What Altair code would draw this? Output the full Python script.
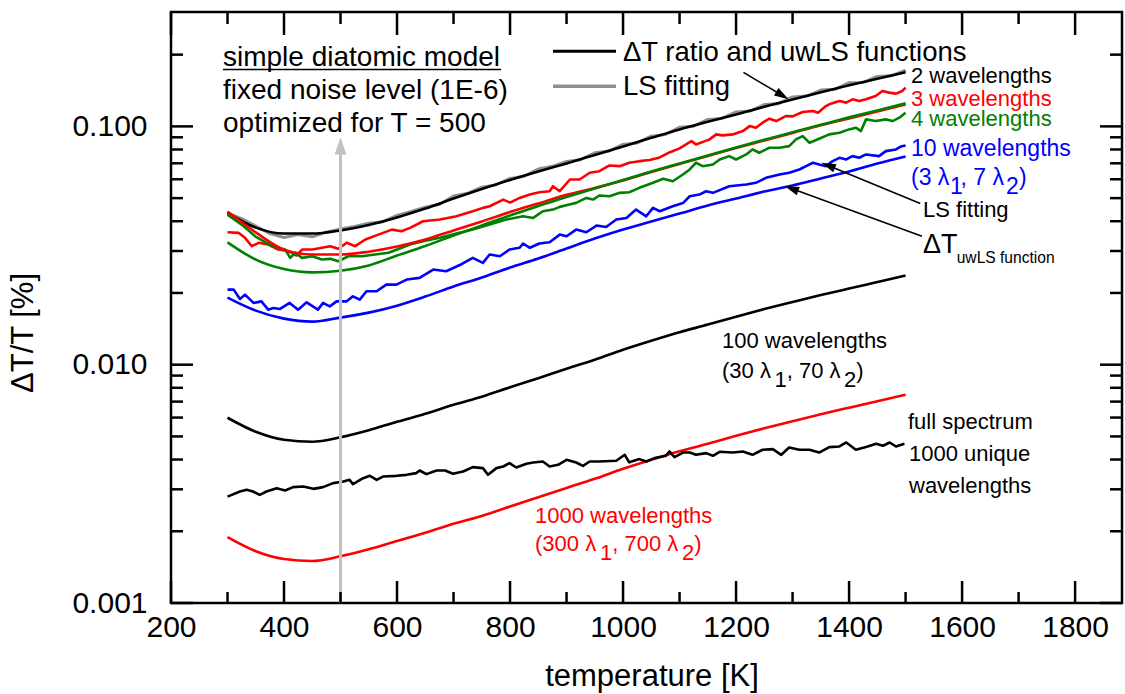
import altair as alt
import pandas as pd

# ---------------- data ----------------
T50 = list(range(300, 1501, 50))
T25 = list(range(300, 1501, 25))

# smooth curves (Delta-T ratio / uwLS functions)
black_2wl = [0.0435, 0.0376, 0.0355, 0.0355, 0.0366, 0.0386, 0.0415, 0.0452, 0.0498, 0.0546,
             0.0596, 0.0647, 0.0699, 0.0759, 0.0824, 0.0895, 0.0971, 0.1045, 0.1123, 0.1208,
             0.1298, 0.1390, 0.1487, 0.1583, 0.1686]
red_3wl = [0.0439, 0.0359, 0.0304, 0.0290, 0.0290, 0.0298, 0.0313, 0.0335, 0.0366, 0.0399,
           0.0437, 0.0475, 0.0516, 0.0552, 0.0593, 0.0644, 0.0696, 0.0752, 0.0812, 0.0873,
           0.0939, 0.1010, 0.1080, 0.1156, 0.1237]
green_4wl = [0.0326, 0.0276, 0.0252, 0.0244, 0.0248, 0.0261, 0.0287, 0.0315, 0.0348, 0.0384,
             0.0423, 0.0463, 0.0506, 0.0549, 0.0596, 0.0647, 0.0699, 0.0755, 0.0816, 0.0878,
             0.0944, 0.1015, 0.1091, 0.1167, 0.1249]
blue_10wl = [0.01912, 0.01686, 0.01561, 0.01516, 0.01576, 0.01654, 0.01769, 0.01931, 0.02127, 0.02320,
             0.02556, 0.02789, 0.03072, 0.03383, 0.03692, 0.0399, 0.04309, 0.04657, 0.0498, 0.05332,
             0.0565, 0.06045, 0.0647, 0.0699, 0.0748]
black_100wl = [0.00599, 0.00523, 0.00484, 0.00475, 0.00496, 0.00531, 0.00576, 0.00622, 0.00679, 0.00734,
               0.00804, 0.00878, 0.00962, 0.01050, 0.01156, 0.01261, 0.01369, 0.01473, 0.01591, 0.01711,
               0.01831, 0.01959, 0.02087, 0.02222, 0.02366]
red_1000wl = [0.00189, 0.00165, 0.00153, 0.00150, 0.00157, 0.00168, 0.00182, 0.00197, 0.00215, 0.00232,
              0.00254, 0.00278, 0.00304, 0.00332, 0.00366, 0.00399, 0.00433, 0.00466, 0.00503, 0.00541,
              0.00579, 0.00619, 0.00660, 0.00703, 0.00748]

# noisy curves (LS fitting)
gray_ls2 = [0.0432, 0.0410, 0.0382, 0.0355, 0.0342, 0.0352, 0.0344, 0.0360, 0.0371, 0.0380,
            0.0392, 0.0398, 0.0423, 0.0440, 0.0458, 0.0470, 0.0510, 0.0524, 0.0556, 0.0568,
            0.0605, 0.0618, 0.0662, 0.0680, 0.0712, 0.0725, 0.0775, 0.0788, 0.0840, 0.0852,
            0.0910, 0.0925, 0.0992, 0.1002, 0.1070, 0.1080, 0.1150, 0.1160, 0.1235, 0.1245,
            0.1330, 0.1340, 0.1420, 0.1430, 0.1525, 0.1530, 0.1620, 0.1630, 0.1720]

r3_T = [300, 320, 331, 343, 355, 372, 390, 408, 422, 432, 450, 467, 482, 496, 511, 526, 544, 567, 591, 608,
        623, 646, 676, 705, 734, 752, 764, 788, 800, 817, 835, 852, 870, 876, 888, 906, 923, 941, 958, 976,
        994, 1011, 1029, 1047, 1065, 1082, 1100, 1121, 1129, 1145, 1153, 1165, 1176, 1194, 1212, 1224, 1235,
        1247, 1259, 1271, 1288, 1300, 1318, 1336, 1345, 1359, 1365, 1383, 1395, 1406, 1418, 1430, 1447, 1459,
        1471, 1483, 1494, 1500]
r3_v = [0.03595, 0.03573, 0.03407, 0.03142, 0.03247, 0.03194, 0.03043, 0.02994, 0.02872, 0.03043,
        0.03043, 0.03094, 0.03142, 0.03064, 0.03247, 0.03142, 0.03352, 0.03515, 0.03689, 0.03629,
        0.03751, 0.03998, 0.04064, 0.04195, 0.04403, 0.04550, 0.04621, 0.04931, 0.04790, 0.05011,
        0.05176, 0.05294, 0.05345, 0.05609, 0.05345, 0.05985, 0.05985, 0.06387, 0.06488, 0.06855,
        0.06809, 0.07037, 0.07146, 0.07229, 0.07407, 0.07775, 0.08083, 0.08673, 0.08401, 0.08673,
        0.08817, 0.09255, 0.09166, 0.09255, 0.09556, 0.10029, 0.09875, 0.10365, 0.10774, 0.10526,
        0.11050, 0.11017, 0.11488, 0.11598, 0.11419, 0.12172, 0.12374, 0.12776, 0.12580, 0.12987,
        0.12776, 0.12987, 0.13411, 0.14077, 0.13859, 0.13725, 0.14077, 0.14547]

g4_T = [300, 325, 349, 379, 402, 411, 420, 432, 450, 467, 482, 496, 514, 538, 561, 585, 600, 623, 646, 676,
        705, 734, 764, 793, 823, 841, 858, 876, 888, 905, 917, 935, 947, 958, 976, 994, 1011, 1029, 1053, 1071,
        1088, 1106, 1118, 1129, 1141, 1159, 1171, 1188, 1200, 1218, 1229, 1241, 1259, 1277, 1294, 1306, 1318,
        1330, 1347, 1365, 1383, 1400, 1412, 1421, 1430, 1447, 1465, 1477, 1489, 1500]
g4_v = [0.04265, 0.03872, 0.03458, 0.03142, 0.03043, 0.02807, 0.02948, 0.02807, 0.02851, 0.02762,
        0.02781, 0.02717, 0.02851, 0.02851, 0.02899, 0.02948, 0.03043, 0.03194, 0.03298, 0.03407,
        0.03549, 0.03689, 0.03872, 0.04064, 0.04195, 0.04130, 0.04403, 0.04476, 0.04595, 0.04698,
        0.04776, 0.05011, 0.04931, 0.05127, 0.05092, 0.05262, 0.05294, 0.05523, 0.05797, 0.06026,
        0.05887, 0.06283, 0.06595, 0.07037, 0.06809, 0.06921, 0.07264, 0.07502, 0.07264, 0.07626,
        0.08004, 0.07752, 0.08137, 0.08137, 0.08264, 0.08817, 0.09104, 0.08541, 0.08878, 0.09255,
        0.09408, 0.09714, 0.09875, 0.09556, 0.10700, 0.10526, 0.10700, 0.10526, 0.10875, 0.11418]

b10_T = [300, 311, 322, 331, 346, 360, 372, 381, 393, 410, 425, 440, 460, 469, 481, 493, 511, 522, 534, 546,
         564, 581, 599, 617, 640, 664, 687, 711, 734, 752, 764, 782, 799, 817, 823, 835, 852, 870, 888, 900,
         917, 935, 953, 970, 988, 1006, 1023, 1041, 1053, 1065, 1088, 1106, 1118, 1135, 1147, 1159, 1188, 1218,
         1235, 1253, 1277, 1294, 1312, 1324, 1336, 1347, 1359, 1371, 1383, 1395, 1406, 1418, 1430, 1453, 1465,
         1483, 1492, 1500]
b10_v = [0.02066, 0.02066, 0.01888, 0.01968, 0.01816, 0.01844, 0.01702, 0.01730, 0.01714, 0.01816,
         0.01702, 0.01827, 0.01702, 0.01816, 0.01757, 0.01844, 0.01844, 0.01936, 0.01875, 0.02033,
         0.02033, 0.02168, 0.02168, 0.02276, 0.02313, 0.02507, 0.02466, 0.02619, 0.02807, 0.02675,
         0.02900, 0.02852, 0.03043, 0.03094, 0.03225, 0.03094, 0.03225, 0.03266, 0.03515, 0.03458,
         0.03689, 0.03595, 0.03835, 0.03780, 0.04064, 0.04130, 0.04476, 0.04195, 0.04550, 0.04403,
         0.04621, 0.04767, 0.05092, 0.05176, 0.05345, 0.05262, 0.05609, 0.05702, 0.05797, 0.06082,
         0.06283, 0.06387, 0.06595, 0.06809, 0.07037, 0.06921, 0.06809, 0.07146, 0.07383, 0.07264,
         0.07502, 0.07383, 0.07626, 0.07502, 0.07874, 0.08004, 0.0824, 0.0832]

fs_T = [300, 322, 334, 345, 357, 369, 387, 402, 416, 434, 452, 469, 487, 505, 516, 522, 540, 552, 564, 575,
        599, 617, 634, 640, 652, 670, 685, 699, 717, 734, 752, 761, 776, 788, 799, 811, 829, 841, 858, 870,
        885, 900, 917, 929, 941, 958, 988, 1003, 1011, 1029, 1041, 1056, 1076, 1082, 1091, 1106, 1118, 1129,
        1147, 1159, 1171, 1194, 1212, 1229, 1247, 1265, 1280, 1294, 1312, 1330, 1347, 1365, 1383, 1395, 1412,
        1430, 1448, 1460, 1472, 1483, 1498]
fs_v = [0.002796, 0.002936, 0.002984, 0.002936, 0.002843, 0.002936, 0.003033, 0.002964, 0.003063, 0.003081,
        0.003013, 0.003063, 0.003184, 0.003233, 0.003287, 0.003153, 0.003341, 0.003417, 0.003287, 0.003394,
        0.003417, 0.003450, 0.003508, 0.003597, 0.003474, 0.003597, 0.003597, 0.003484, 0.003562, 0.003717,
        0.003681, 0.003450, 0.003681, 0.003739, 0.003863, 0.003703, 0.003837, 0.003887, 0.003924, 0.003739,
        0.003800, 0.003989, 0.003887, 0.003764, 0.003924, 0.003924, 0.003951, 0.004187, 0.003893, 0.004016,
        0.003924, 0.004055, 0.004147, 0.004323, 0.004095, 0.004280, 0.004280, 0.004187, 0.004256, 0.004147,
        0.004310, 0.004280, 0.004323, 0.004187, 0.004395, 0.004424, 0.004187, 0.004493, 0.004395, 0.004395,
        0.004280, 0.004511, 0.004537, 0.004716, 0.004395, 0.004511, 0.004657, 0.004568, 0.004716, 0.004537,
        0.004657]

# axis tick values
x_major = [200, 400, 600, 800, 1000, 1200, 1400, 1600, 1800]
x_minor = [300, 500, 700, 900, 1100, 1300, 1500, 1700]
y_major = [0.001, 0.01, 0.1]
y_minor = [0.002, 0.003, 0.004, 0.005, 0.006, 0.007, 0.008, 0.009,
           0.02, 0.03, 0.04, 0.05, 0.06, 0.07, 0.08, 0.09, 0.2]

# annotation arrows (data coordinates): start T, start v, head T, head v, head angle
arrow_T0 = [1213, 1526, 1529]
arrow_v0 = [0.1686, 0.04747, 0.0346]
arrow_T1 = [1282, 1363, 1298]
arrow_v1 = [0.1348, 0.06858, 0.05484]
arrow_ang = [121.3, 292.5, 290.1]
marker_T = [500]
marker_v0 = [0.001]
marker_v1 = [0.0828]

# ---------------- chart ----------------
W, H = 951, 591
FONT = "Liberation Sans"
RED, GREEN, BLUE, GRAY = "#ff0000", "#008000", "#0000ff", "#8f8f8f"

xs = alt.Scale(domain=[200, 1883], nice=False, zero=False)
ys = alt.Scale(type="log", domain=[0.001, 0.302], nice=False)
x_axis = alt.Axis(values=x_major, format="d", title=None, grid=False, domain=False,
                  ticks=False, labelFontSize=30, labelFont=FONT, labelColor="black",
                  labelPadding=33, labelBaseline="alphabetic", labelFlush=False,
                  labelOverlap=False)
y_axis = alt.Axis(values=y_major, format=".3f", title=None, grid=False, domain=False,
                  ticks=False, labelFontSize=30, labelFont=FONT, labelColor="black",
                  labelPadding=24, labelBaseline="middle", labelFlush=False,
                  labelOverlap=False)


def X(f="T"):
    return alt.X(f"{f}:Q", scale=xs, axis=x_axis)


def Y(f="v"):
    return alt.Y(f"{f}:Q", scale=ys, axis=y_axis)


def line(T, v, color, width=2.6, interp="linear"):
    df = pd.DataFrame({"T": T, "v": v})
    return alt.Chart(df).mark_line(color=color, strokeWidth=width, interpolate=interp,
                                   strokeJoin="round").encode(x=X(), y=Y())


layers = [
    line(T25, gray_ls2, GRAY, 3.0),
    line(T50, black_2wl, "black", 2.6, "monotone"),
    line(r3_T, r3_v, RED),
    line(g4_T, g4_v, GREEN),
    line(T50, red_3wl, RED, 2.6, "monotone"),
    line(T50, green_4wl, GREEN, 2.6, "monotone"),
    line(b10_T, b10_v, BLUE),
    line(T50, blue_10wl, BLUE, 2.6, "monotone"),
    line(T50, black_100wl, "black", 2.6, "monotone"),
    line(T50, red_1000wl, RED, 2.6, "monotone"),
    line(fs_T, fs_v, "black"),
]

ONE = pd.DataFrame({"a": [0]})
HEAD = "M0,-1L0.6,1L-0.6,1Z"

# grey vertical arrow at T = 500
mk = pd.DataFrame({"T": marker_T, "v": marker_v0, "v2": marker_v1})
layers.append(alt.Chart(mk).mark_rule(color="#c0c0c0", strokeWidth=3).encode(
    x=X(), y=Y(), y2="v2:Q"))
layers.append(alt.Chart(mk).mark_point(shape="M0,-1L0.7,1L-0.7,1Z", filled=True, color="#c0c0c0",
                                       size=289, opacity=1, angle=0).encode(x=X(), y=Y("v2")))

# black annotation arrows
ar = pd.DataFrame({"T": arrow_T0, "v": arrow_v0, "T2": arrow_T1, "v2": arrow_v1, "ang": arrow_ang})
layers.append(alt.Chart(ar).mark_rule(color="black", strokeWidth=1.6).encode(
    x=X(), y=Y(), x2="T2:Q", y2="v2:Q"))
layers.append(alt.Chart(ar).mark_point(shape=HEAD, filled=True, color="black", size=210,
                                       opacity=1).encode(
    x=X("T2"), y=Y("v2"), angle=alt.Angle("ang:Q", scale=None)))

# inward ticks on all four sides
for vals, ln in ((x_major, 22), (x_minor, 11)):
    d = pd.DataFrame({"T": vals})
    layers.append(alt.Chart(d).mark_rule(color="black", strokeWidth=2.5).encode(
        x=X(), y=alt.value(H), y2=alt.value(H - ln)))
    layers.append(alt.Chart(d).mark_rule(color="black", strokeWidth=2.5).encode(
        x=X(), y=alt.value(0), y2=alt.value(ln + 1)))
for vals, ln in ((y_major, 22), (y_minor, 12)):
    d = pd.DataFrame({"v": vals})
    layers.append(alt.Chart(d).mark_rule(color="black", strokeWidth=2.5).encode(
        y=Y(), x=alt.value(0), x2=alt.value(ln)))
    layers.append(alt.Chart(d).mark_rule(color="black", strokeWidth=2.5).encode(
        y=Y(), x=alt.value(W), x2=alt.value(W - ln)))

# legend lines + underline
layers.append(alt.Chart(ONE).mark_rule(color="black", strokeWidth=3).encode(
    x=alt.value(382), x2=alt.value(445), y=alt.value(39.3)))
layers.append(alt.Chart(ONE).mark_rule(color=GRAY, strokeWidth=3.5).encode(
    x=alt.value(382), x2=alt.value(445), y=alt.value(74.3)))
layers.append(alt.Chart(ONE).mark_rule(color="black", strokeWidth=1.5).encode(
    x=alt.value(52), x2=alt.value(330), y=alt.value(57.5)))

# texts: (text, x, y(baseline), size, color)
texts = [
    ("simple diatomic model", 52, 54, 28, "black"),
    ("fixed noise level (1E-6)", 52, 87, 28, "black"),
    ("optimized for T = 500", 52, 120.3, 28, "black"),
    ("\u0394T ratio and uwLS functions", 452, 49.3, 27.5, "black"),
    ("LS fitting", 452, 82.7, 27.5, "black"),
    ("2 wavelengths", 740, 70.7, 22, "black"),
    ("3 wavelengths", 740, 94, 22, RED),
    ("4 wavelengths", 740, 114, 22, GREEN),
    ("10 wavelengths", 740, 144, 23, BLUE),
    ("(3 \u03bb", 740, 173, 23, BLUE),
    ("1", 779, 182, 23, BLUE),
    (", 7 \u03bb", 789.5, 173, 23, BLUE),
    ("2", 835, 182, 23, BLUE),
    (")", 848, 173, 23, BLUE),
    ("LS fitting", 752, 204.7, 22, "black"),
    ("\u0394T", 752, 241.3, 27, "black"),
    ("uwLS function", 785.7, 251.3, 15.6, "black"),
    ("100 wavelengths", 551, 336.3, 22, "black"),
    ("(30 \u03bb", 551, 365.5, 22, "black"),
    ("1", 603.5, 374.5, 22, "black"),
    (", 70 \u03bb", 615.7, 365.5, 22, "black"),
    ("2", 673, 374.5, 22, "black"),
    (")", 685.2, 365.5, 22, "black"),
    ("full spectrum", 737, 417, 22, "black"),
    ("1000 unique", 738, 448.7, 22, "black"),
    ("wavelengths", 738, 480.7, 22, "black"),
    ("1000 wavelengths", 364, 510.7, 22, RED),
    ("(300 \u03bb", 364, 539, 22, RED),
    ("1", 429, 548, 22, RED),
    (", 700 \u03bb", 441.2, 539, 22, RED),
    ("2", 511, 548, 22, RED),
    (")", 523.2, 539, 22, RED),
]
for t, px, py, fs, col in texts:
    layers.append(alt.Chart(ONE).mark_text(text=t, font=FONT, fontSize=fs, color=col,
                                           align="left", baseline="alphabetic").encode(
        x=alt.value(px), y=alt.value(py)))

# axis titles
layers.append(alt.Chart(ONE).mark_text(text="temperature [K]", font=FONT, fontSize=31,
                                       color="black", align="center", baseline="alphabetic").encode(
    x=alt.value(481), y=alt.value(674)))
layers.append(alt.Chart(ONE).mark_text(text="\u0394T/T [%]", font=FONT, fontSize=31, angle=270,
                                       color="black", align="center", baseline="alphabetic").encode(
    x=alt.value(-138), y=alt.value(321)))

chart = alt.layer(*layers).properties(
    width=W, height=H,
    autosize=alt.AutoSizeParams(type="none"),
    padding={"left": 171, "top": 12, "right": 3, "bottom": 91},
    background="white",
).configure_view(stroke="black", strokeWidth=2.5)

chart.save("out.html", embed_options={"renderer": "svg", "actions": False})
